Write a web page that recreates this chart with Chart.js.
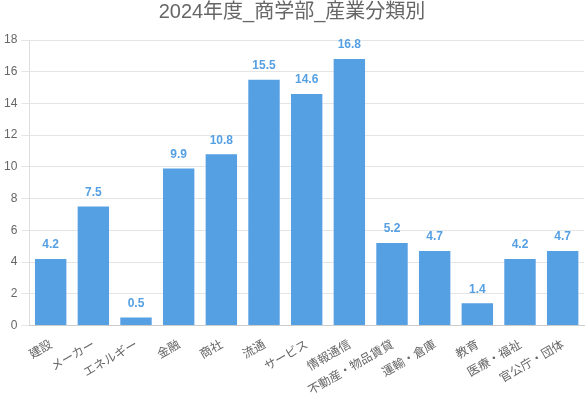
<!DOCTYPE html>
<html>
<head>
<meta charset="utf-8">
<script src="https://cdn.jsdelivr.net/npm/chart.js@4"></script>
<style>
  body { margin: 0; background: #fff; }
  #wrap { width: 586px; height: 400px; }
</style>
</head>
<body>
<div id="wrap"><canvas id="chart"></canvas></div>
<script>
// データ
const categories = ['建設', 'メーカー', 'エネルギー', '金融', '商社', '流通', 'サービス', '情報通信', '不動産・物品賃貸', '運輸・倉庫', '教育', '医療・福祉', '官公庁・団体'];
const values = [4.2, 7.5, 0.5, 9.9, 10.8, 15.5, 14.6, 16.8, 5.2, 4.7, 1.4, 4.2, 4.7];
const yTicks = [0, 2, 4, 6, 8, 10, 12, 14, 16, 18];

const barColor = '#559fe3';

// バーの上に値を描く
const valueLabels = {
  id: 'valueLabels',
  afterDatasetsDraw(chart) {
    const ctx = chart.ctx;
    const meta = chart.getDatasetMeta(0);
    ctx.save();
    ctx.font = 'bold 12px "Liberation Sans", Arial, sans-serif';
    ctx.fillStyle = barColor;
    ctx.textAlign = 'center';
    ctx.textBaseline = 'bottom';
    meta.data.forEach((bar, i) => {
      ctx.fillText(values[i].toFixed(1), bar.x, bar.y - 8);
    });
    ctx.restore();
  }
};

new Chart(document.getElementById('chart'), {
  type: 'bar',
  data: {
    labels: categories,
    datasets: [{
      data: values,
      backgroundColor: barColor,
      categoryPercentage: 0.8,
      barPercentage: 0.92
    }]
  },
  options: {
    responsive: true,
    maintainAspectRatio: false,
    animation: false,
    layout: { padding: { right: 2 } },
    plugins: {
      legend: { display: false },
      tooltip: { enabled: false },
      title: {
        display: true,
        text: '2024年度_商学部_産業分類別',
        color: '#666',
        font: { size: 20, weight: 'normal', family: '"Liberation Sans", "Noto Sans CJK JP", sans-serif' },
        padding: { top: 0, bottom: 16 }
      }
    },
    scales: {
      y: {
        min: 0,
        max: 18,
        afterBuildTicks: axis => { axis.ticks = yTicks.map(v => ({ value: v })); },
        ticks: { color: '#666', font: { size: 12, family: '"Liberation Sans", sans-serif' }, padding: 4 },
        grid: { color: '#e5e5e5' },
        border: { color: '#ddd' }
      },
      x: {
        ticks: {
          color: '#666',
          maxRotation: 30,
          minRotation: 30,
          autoSkip: false,
          font: { size: 12, family: '"Noto Sans CJK JP", sans-serif' }
        },
        grid: { display: false },
        border: { color: '#ccc' }
      }
    }
  },
  plugins: [valueLabels]
});
</script>
</body>
</html>
